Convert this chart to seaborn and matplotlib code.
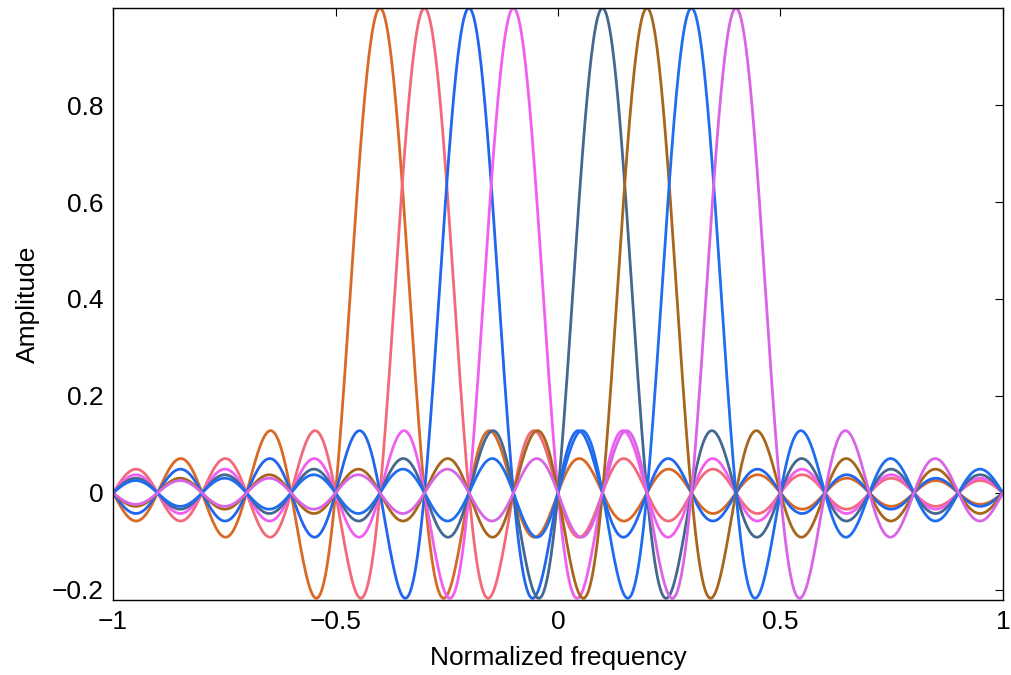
import numpy as np
import pandas as pd
import matplotlib
matplotlib.use("Agg")
import matplotlib.pyplot as plt
import seaborn as sns

# Sub-band centre frequencies (normalized) and main-lobe half width
centers = [-0.4, -0.3, -0.2, -0.1, 0.1, 0.2, 0.3, 0.4]
lobe_width = 0.1
colors = ["#d96a26", "#f26a7a", "#2266ee", "#f25ef0",
          "#44688f", "#a8661c", "#1f6ef0", "#d865e6"]
x_ticks = [-1, -0.5, 0, 0.5, 1]
x_tick_labels = ["\u22121", "\u22120.5", "0", "0.5", "1"]
y_ticks = [-0.2, 0, 0.2, 0.4, 0.6, 0.8]
y_tick_labels = ["\u22120.2", "0", "0.2", "0.4", "0.6", "0.8"]

freq = np.linspace(-1, 1, 2001)
frames = []
for i, c in enumerate(centers):
    frames.append(pd.DataFrame({"freq": freq,
                                "amp": np.sinc((freq - c) / lobe_width),
                                "band": f"b{i}"}))
df = pd.concat(frames, ignore_index=True)

sns.set_theme(style="white")
plt.rcParams["font.family"] = ["Liberation Sans", "DejaVu Sans"]

fig = plt.figure(figsize=(10.11, 6.75), dpi=100)
ax = fig.add_axes([0.1118, 0.111, 0.8802, 0.877])
sns.lineplot(data=df, x="freq", y="amp", hue="band", palette=colors,
             linewidth=2.0, legend=False, ax=ax, estimator=None, sort=False)

ax.set_xlim(-1, 1)
ax.set_ylim(-0.221, 1.0)
ax.set_xticks(x_ticks)
ax.set_xticklabels(x_tick_labels)
ax.set_yticks(y_ticks)
ax.set_yticklabels(y_tick_labels)
ax.tick_params(direction="in", length=6, width=0.8, colors="black",
               labelsize=19, top=True, right=True, pad=7)
for s in ax.spines.values():
    s.set_visible(True)
    s.set_color("black")
    s.set_linewidth(1.0)
ax.set_xlabel("Normalized frequency", fontsize=19, color="black", labelpad=9)
ax.set_ylabel("Amplitude", fontsize=19, color="black", labelpad=8)
ax.grid(False)

fig.savefig("out.png", dpi=100, facecolor="white")
